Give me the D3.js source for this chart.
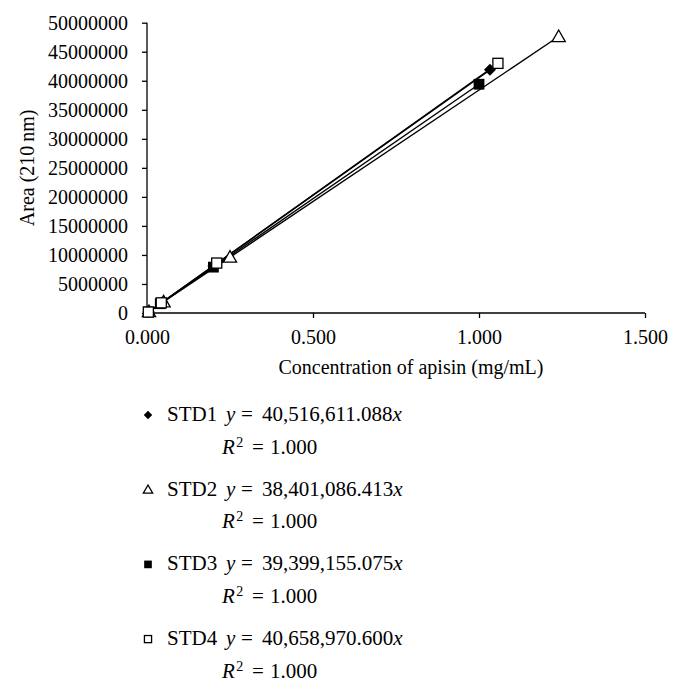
<!DOCTYPE html>
<html>
<head>
<meta charset="utf-8">
<script src="https://cdn.jsdelivr.net/npm/d3@7"></script>
<style>
  body { margin: 0; background: #fff; }
  text { font-family: "Liberation Serif", "Times New Roman", serif; fill: #000; }
</style>
</head>
<body>
<script>
    // series names, markers and fitted slopes (from the legend)
    const seriesNames = ['STD1', 'STD2', 'STD3', 'STD4'];
    const seriesMarkers = ['diamond', 'triangle', 'filledSquare', 'openSquare'];
    const slopes = [40516611.088, 38401086.413, 39399155.075, 40658970.600];
    const slopeLabels = ['40,516,611.088', '38,401,086.413', '39,399,155.075', '40,658,970.600'];
    const r2Labels = ['1.000', '1.000', '1.000', '1.000'];

    const std1 = [[0.005, 200000], [0.045, 1800000], [0.200, 8100000], [1.033, 41900000]];
    const std2 = [[0.006, 230000], [0.050, 1900000], [0.250, 9600000], [1.240, 47600000]];
    const std3 = [[0.005, 200000], [0.040, 1600000], [0.200, 7900000], [1.000, 39400000]];
    const std4 = [[0.004, 160000], [0.043, 1750000], [0.210, 8600000], [1.057, 43000000]];

    const xTicks = [0, 0.5, 1.0, 1.5];
    const yTicks = [0, 5000000, 10000000, 15000000, 20000000, 25000000, 30000000, 35000000, 40000000, 45000000, 50000000];

    const measurements = {
        width: 682,
        height: 696,
        left: 147,
        right: 645,
        top: 22.7,
        bottom: 313
    };

    const allSeries = [std1, std2, std3, std4];

    let svg = d3.select('body')
        .append('svg')
        .attr('width', measurements.width)
        .attr('height', measurements.height);

    let x = d3.scaleLinear()
        .domain([0, 1.5])
        .range([measurements.left, measurements.right]);

    let y = d3.scaleLinear()
        .domain([0, 50000000])
        .range([measurements.bottom, measurements.top]);

    // axes
    let xAxis = svg.append('g')
        .attr('transform', 'translate(0,' + measurements.bottom + ')')
        .call(d3.axisBottom(x).tickValues(xTicks).tickSize(5).tickPadding(12).tickFormat(d3.format('.3f')));

    let yAxis = svg.append('g')
        .attr('transform', 'translate(' + measurements.left + ',0)')
        .call(d3.axisLeft(y).tickValues(yTicks).tickSize(5).tickPadding(14).tickFormat(d => String(d)));

    [xAxis, yAxis].forEach(function(ax) {
        ax.select('.domain').attr('stroke', '#000').attr('stroke-width', 1.3);
        ax.selectAll('.tick line').attr('stroke', '#000').attr('stroke-width', 1.3);
        ax.selectAll('.tick text')
            .style('font-family', '"Liberation Serif", serif')
            .style('font-size', '20px')
            .attr('fill', '#000');
    });
    // plain domain lines, no end caps
    yAxis.select('.domain').attr('d', 'M0,' + measurements.bottom + 'V' + measurements.top);
    xAxis.select('.domain').attr('d', 'M' + measurements.left + ',0H' + measurements.right);

    // axis titles
    svg.append('text')
        .attr('x', 411)
        .attr('y', 374)
        .attr('text-anchor', 'middle')
        .style('font-size', '20px')
        .text('Concentration of apisin (mg/mL)');

    svg.append('text')
        .attr('transform', 'translate(34,' + ((measurements.top + measurements.bottom) / 2) + ') rotate(-90)')
        .attr('text-anchor', 'middle')
        .style('font-size', '20px')
        .text('Area (210\u2009nm)');

    // trend lines through the origin
    let lines = svg.append('g');
    allSeries.forEach(function(data, i) {
        let maxX = d3.max(data, d => d[0]);
        lines.append('line')
            .attr('x1', x(0))
            .attr('y1', y(0))
            .attr('x2', x(maxX))
            .attr('y2', y(slopes[i] * maxX))
            .attr('stroke', '#000')
            .attr('stroke-width', 1.4);
    });

    // marker drawing
    function drawMarker(g, type, cx, cy, size) {
        if (type === 'diamond') {
            let s = size * 0.5;
            g.append('path')
                .attr('d', 'M' + cx + ',' + (cy - s) + 'L' + (cx + s) + ',' + cy + 'L' + cx + ',' + (cy + s) + 'L' + (cx - s) + ',' + cy + 'Z')
                .attr('fill', '#000');
        } else if (type === 'triangle') {
            let s = size * 0.55;
            g.append('path')
                .attr('d', 'M' + cx + ',' + (cy - s) + 'L' + (cx + s) + ',' + (cy + s * 0.75) + 'L' + (cx - s) + ',' + (cy + s * 0.75) + 'Z')
                .attr('fill', '#fff')
                .attr('stroke', '#000')
                .attr('stroke-width', 1.3);
        } else if (type === 'filledSquare') {
            let s = size * 0.45;
            g.append('rect')
                .attr('x', cx - s).attr('y', cy - s)
                .attr('width', 2 * s).attr('height', 2 * s)
                .attr('fill', '#000');
        } else {
            let s = size * 0.42;
            g.append('rect')
                .attr('x', cx - s).attr('y', cy - s)
                .attr('width', 2 * s).attr('height', 2 * s)
                .attr('fill', '#fff')
                .attr('stroke', '#000')
                .attr('stroke-width', 1.3);
        }
    }

    let points = svg.append('g');
    allSeries.forEach(function(data, i) {
        data.forEach(function(d) {
            drawMarker(points, seriesMarkers[i], x(d[0]), y(d[1]), 12);
        });
    });

    // legend
    let legend = svg.append('g');
    seriesNames.forEach(function(name, i) {
        let base = 421 + i * 74.7;
        drawMarker(legend, seriesMarkers[i], 148, base - 6, 8.5);

        let t = legend.append('text')
            .attr('y', base)
            .style('font-size', '21px');
        t.append('tspan').attr('x', 167).text(name);
        t.append('tspan').attr('x', 226).style('font-style', 'italic').text('y');
        t.append('tspan').attr('x', 241).text('=');
        t.append('tspan').attr('x', 262).text(slopeLabels[i]);
        t.append('tspan').style('font-style', 'italic').text('x');

        let r = legend.append('text')
            .attr('y', base + 32.5)
            .style('font-size', '21px');
        r.append('tspan').attr('x', 222).style('font-style', 'italic').text('R');
        r.append('tspan').attr('dx', 1.5).attr('dy', -7).style('font-size', '14px').text('2');
        r.append('tspan').attr('x', 252).attr('dy', 7).text('=');
        r.append('tspan').attr('x', 270).text(r2Labels[i]);
    });
</script>
</body>
</html>
